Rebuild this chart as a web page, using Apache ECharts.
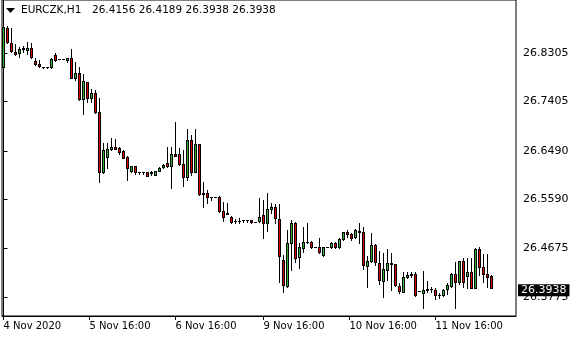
<!DOCTYPE html>
<html><head><meta charset="utf-8">
<script src="https://cdn.jsdelivr.net/npm/echarts@6/dist/echarts.min.js"></script>
<style>html,body{margin:0;padding:0;background:#fff}#c{width:580px;height:340px}</style>
</head><body><div id="c"></div>
<script>
const symbol = 'EURCZK,H1';
const opens = [26.8051,26.8775,26.8485,26.8329,26.8305,26.8392,26.8355,26.8403,26.8156,26.8095,26.8051,26.8051,26.8051,26.8268,26.8188,26.8188,26.8175,26.8218,26.7846,26.7928,26.7445,26.7761,26.7475,26.7557,26.7204,26.6101,26.6380,26.6517,26.6560,26.6541,26.6485,26.6368,26.6120,26.6201,26.6101,26.6101,26.6090,26.6090,26.6045,26.6120,26.6183,26.6263,26.6212,26.6424,26.6430,26.6238,26.6008,26.6690,26.6095,26.6610,26.5700,26.5711,26.5637,26.5637,26.5637,26.5377,26.5329,26.5266,26.5186,26.5186,26.5210,26.5210,26.5210,26.5167,26.5191,26.5297,26.5154,26.5403,26.5440,26.5217,26.4462,26.3984,26.4772,26.5143,26.4512,26.4679,26.4801,26.4801,26.4697,26.4697,26.4554,26.4694,26.4697,26.4772,26.4709,26.4846,26.4976,26.4939,26.4883,26.4995,26.4987,26.4356,26.4434,26.4740,26.4400,26.4081,26.4285,26.4400,26.4382,26.3979,26.3873,26.4137,26.4196,26.4196,26.3892,26.3843,26.3918,26.3923,26.3905,26.3812,26.3803,26.3923,26.3984,26.4196,26.4048,26.4443,26.4170,26.4233,26.3947,26.4666,26.4337,26.4196,26.4156];
const highs = [26.8973,26.8806,26.8764,26.8466,26.8422,26.8440,26.8504,26.8485,26.8218,26.8175,26.8051,26.8051,26.8206,26.8310,26.8190,26.8190,26.8218,26.8374,26.8132,26.8051,26.7909,26.7772,26.7637,26.7618,26.7464,26.6634,26.6628,26.6732,26.6708,26.6565,26.6504,26.6398,26.6212,26.6212,26.6101,26.6101,26.6101,26.6120,26.6120,26.6183,26.6244,26.6565,26.6554,26.7029,26.6536,26.6504,26.6894,26.6783,26.6894,26.6610,26.5915,26.5761,26.5637,26.5637,26.5650,26.5544,26.5525,26.5279,26.5217,26.5236,26.5210,26.5210,26.5210,26.5167,26.5607,26.5576,26.5711,26.5514,26.5501,26.5501,26.4554,26.5019,26.5204,26.5173,26.4772,26.5080,26.5143,26.4814,26.4697,26.4865,26.4709,26.4697,26.4801,26.4801,26.4865,26.4987,26.5019,26.4957,26.5032,26.5143,26.5069,26.4536,26.4968,26.4759,26.4629,26.4592,26.4660,26.4597,26.4387,26.4029,26.4244,26.4239,26.4239,26.4244,26.3892,26.4257,26.4072,26.3955,26.3936,26.3843,26.3918,26.4029,26.4215,26.4430,26.4449,26.4499,26.4493,26.4493,26.4690,26.4709,26.4567,26.4567,26.4189];
const lows = [26.8026,26.8485,26.8318,26.8268,26.8236,26.8329,26.8281,26.8206,26.8082,26.8051,26.8021,26.8021,26.8032,26.8162,26.8186,26.8186,26.8143,26.7846,26.7804,26.7432,26.7172,26.7401,26.7390,26.7185,26.5915,26.6082,26.6164,26.6504,26.6517,26.6424,26.6350,26.5947,26.6101,26.6053,26.6058,26.6053,26.6021,26.6040,26.6034,26.6114,26.6175,26.6194,26.5793,26.6398,26.6225,26.5836,26.5947,26.6040,26.6095,26.5668,26.5451,26.5514,26.5576,26.5630,26.5358,26.5191,26.5310,26.5143,26.5154,26.5154,26.5173,26.5173,26.5154,26.5162,26.5167,26.4865,26.5006,26.5329,26.5143,26.4059,26.3873,26.3966,26.4276,26.4430,26.4307,26.4616,26.4772,26.4679,26.4694,26.4586,26.4536,26.4694,26.4679,26.4679,26.4679,26.4833,26.4894,26.4833,26.4865,26.4772,26.4289,26.3966,26.4424,26.4369,26.4022,26.3775,26.4090,26.3905,26.3979,26.3849,26.3868,26.4122,26.4152,26.3793,26.3886,26.3576,26.3873,26.3873,26.3738,26.3762,26.3793,26.3825,26.3960,26.3565,26.4016,26.3960,26.3936,26.3936,26.3936,26.4183,26.4059,26.3966,26.3938];
const closes = [26.8793,26.8504,26.8342,26.8292,26.8379,26.8374,26.8403,26.8236,26.8095,26.8069,26.8048,26.8048,26.8194,26.8175,26.8188,26.8188,26.8206,26.7846,26.7928,26.7445,26.7791,26.7464,26.7557,26.7204,26.6101,26.6504,26.6523,26.6560,26.6523,26.6472,26.6361,26.6164,26.6207,26.6101,26.6090,26.6090,26.6027,26.6071,26.6108,26.6164,26.6231,26.6207,26.6424,26.6398,26.6238,26.6008,26.6690,26.6095,26.6610,26.5681,26.5691,26.5637,26.5634,26.5634,26.5377,26.5266,26.5321,26.5167,26.5180,26.5180,26.5204,26.5204,26.5162,26.5162,26.5266,26.5154,26.5403,26.5440,26.5236,26.4536,26.3997,26.4772,26.5143,26.4493,26.4697,26.4801,26.4796,26.4694,26.4694,26.4605,26.4697,26.4694,26.4772,26.4709,26.4846,26.4976,26.4939,26.4865,26.5013,26.4987,26.4369,26.4443,26.4740,26.4424,26.4085,26.4289,26.4400,26.4387,26.3997,26.3880,26.4152,26.4183,26.4189,26.3817,26.3886,26.3899,26.3910,26.3918,26.3803,26.3806,26.3905,26.3997,26.4196,26.4048,26.4443,26.4048,26.4233,26.3947,26.4666,26.4337,26.4196,26.4155,26.3938];
const yTickValues = [26.8305, 26.7405, 26.6490, 26.5590, 26.4675, 26.3775];
const xTickIndex = [0, 21.5, 43, 65, 86.5, 108];
const xTickLabels = ['4 Nov 2020', '5 Nov 16:00', '6 Nov 16:00', '9 Nov 16:00', '10 Nov 16:00', '11 Nov 16:00'];
const xMin = -0.375, xMax = 128.125;
const yMin = 26.3422, yMax = 26.9289;

const bullColor = '#32b432', bearColor = '#e00000';
const rows = opens.map((o, i) => [i, o, closes[i], lows[i], highs[i]]);
const last = rows.length - 1;
const lastClose = closes[last];
const quoteText = [opens[last], highs[last], lows[last], closes[last]].map(v => v.toFixed(4)).join(' ');

function renderCandle(params, api) {
  const i = api.value(0), o = api.value(1), c = api.value(2), l = api.value(3), h = api.value(4);
  const cx = Math.floor(api.coord([i, o])[0]);
  const yO = Math.round(api.coord([i, o])[1]);
  const yC = Math.round(api.coord([i, c])[1]);
  const yH = Math.round(api.coord([i, h])[1]);
  const yL = Math.round(api.coord([i, l])[1]);
  const top = Math.min(yO, yC), bot = Math.max(yO, yC);
  const children = [{type: 'rect', shape: {x: cx, y: yH, width: 1, height: yL - yH + 1}, style: {fill: '#000'}}];
  if (bot - top < 1) {
    children.push({type: 'rect', shape: {x: cx - 1, y: top, width: 3, height: 1}, style: {fill: '#000'}});
  } else {
    children.push({type: 'rect', shape: {x: cx - 1, y: top, width: 3, height: bot - top + 1}, style: {fill: '#000'}});
    if (bot - top >= 2) {
      children.push({type: 'rect', shape: {x: cx, y: top + 1, width: 1, height: bot - top - 1}, style: {fill: c > o ? bullColor : bearColor}});
    }
  }
  return {type: 'group', children};
}

const font = 'DejaVu Sans';
const chart = echarts.init(document.getElementById('c'), null, {renderer: 'canvas'});
chart.setOption({
  animation: false,
  backgroundColor: '#fff',
  grid: {left: 2, right: 64, top: 0, bottom: 24, show: true, borderColor: '#000', borderWidth: 1, backgroundColor: 'transparent'},
  xAxis: {
    type: 'value', min: xMin, max: xMax,
    axisLine: {show: true, lineStyle: {color: '#000'}},
    axisTick: {show: true, length: 4, lineStyle: {color: '#000'}, customValues: xTickIndex},
    axisLabel: {show: true, customValues: xTickIndex, align: 'left', margin: 5, color: '#000', fontFamily: font, fontSize: 10,
      formatter: v => xTickLabels[xTickIndex.indexOf(v)] || ''},
    splitLine: {show: false}
  },
  yAxis: {
    type: 'value', position: 'right', min: yMin, max: yMax,
    axisLine: {show: true, lineStyle: {color: '#000'}},
    axisTick: {show: true, length: 4, lineStyle: {color: '#000'}, customValues: yTickValues},
    axisLabel: {show: true, margin: 7, color: '#000', fontFamily: font, fontSize: 11, customValues: yTickValues, formatter: v => v.toFixed(4)},
    splitLine: {show: false}
  },
  graphic: [
    {type: 'polygon', shape: {points: [[6, 8], [15, 8], [10.5, 13]]}, style: {fill: '#000'}},
    {type: 'text', left: 21, top: 5, style: {text: symbol, fill: '#000', font: '10.5px "DejaVu Sans"'}},
    {type: 'text', left: 92, top: 5, style: {text: quoteText, fill: '#000', font: '10.5px "DejaVu Sans"'}}
  ],
  series: [{
    type: 'custom',
    renderItem: renderCandle,
    data: rows,
    encode: {x: 0, y: [1, 2, 3, 4]},
    clip: true,
    markLine: {
      symbol: 'none', silent: true,
      lineStyle: {color: 'rgba(0,0,0,0)', width: 0},
      label: {show: true, position: 'end', distance: 2, formatter: () => lastClose.toFixed(4), backgroundColor: '#000', color: '#fff', fontFamily: font, fontSize: 11, padding: [1, 3, 0, 3]},
      data: [{yAxis: lastClose}]
    }
  }]
});
</script></body></html>
